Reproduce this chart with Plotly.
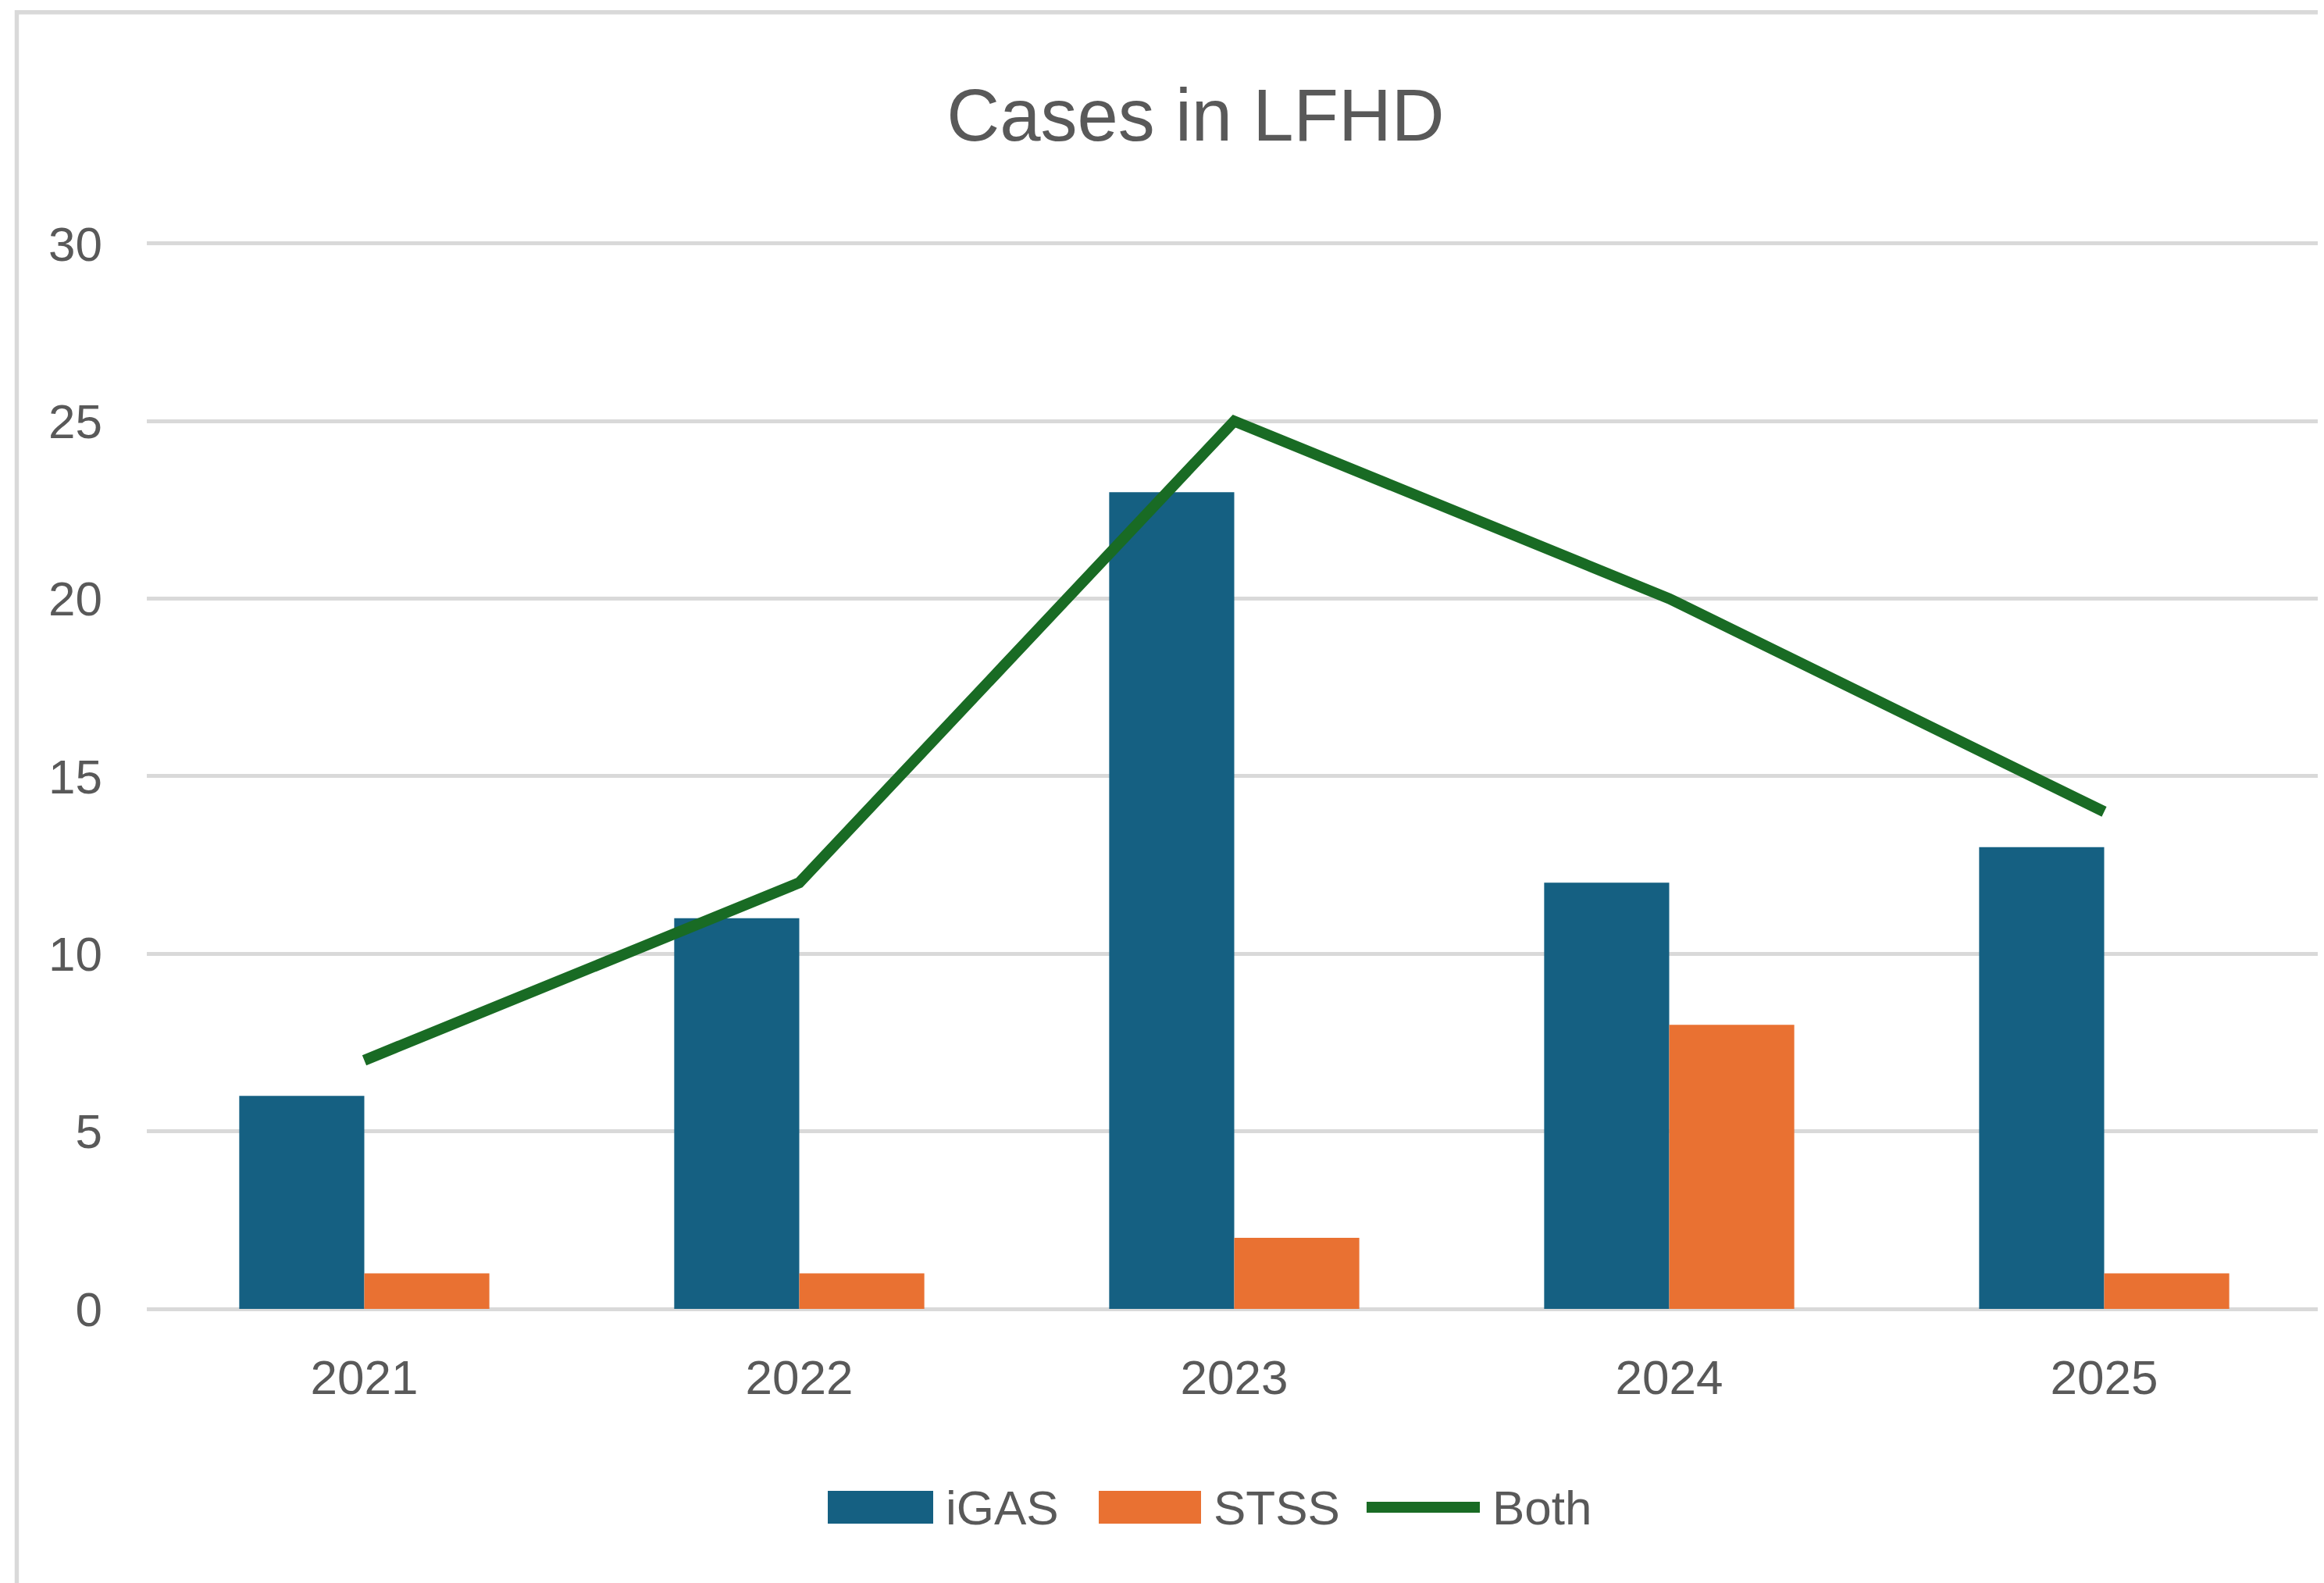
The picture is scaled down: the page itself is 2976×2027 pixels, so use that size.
import plotly.graph_objects as go

# ---- data ----
years = ["2021", "2022", "2023", "2024", "2025"]
igas = [6, 11, 23, 12, 13]
stss = [1, 1, 2, 8, 1]
both = [7, 12, 25, 20, 14]
series_names = ["iGAS", "STSS", "Both"]
y_tick_vals = [0, 5, 10, 15, 20, 25, 30]

# ---- style / geometry (reference pixel positions, corrected for the 8px page margin) ----
OFF = 8
W, H = 2976 - OFF, 2027 - OFF
Y_TOP_PX, Y_ZERO_PX = 312 - OFF, 1676 - OFF      # pixel of value 30 and 0
X_LEFT_PX, X_RIGHT_PX = 188 - OFF, 2973 - OFF
Y_MAX = 30.15
unit = (Y_ZERO_PX - Y_TOP_PX) / 30.0
L = X_LEFT_PX
R = W - X_RIGHT_PX
B = H - Y_ZERO_PX
T = Y_ZERO_PX - Y_MAX * unit

BLUE, ORANGE, GREEN = "#156082", "#E97132", "#196B24"
GRID = "#D9D9D9"
TXT = "#595959"
FONT = "Liberation Sans, Arial, sans-serif"

plot_w = W - L - R
plot_h = H - T - B


def px2x(px):
    return (px - OFF - L) / plot_w


def py2y(py):
    return (H - B - (py - OFF)) / plot_h


fig = go.Figure()
fig.add_trace(go.Bar(x=years, y=igas, name=series_names[0], marker=dict(color=BLUE, line=dict(width=0))))
fig.add_trace(go.Bar(x=years, y=stss, name=series_names[1], marker=dict(color=ORANGE, line=dict(width=0))))
fig.add_trace(go.Scatter(x=years, y=both, name=series_names[2], mode="lines",
                         line=dict(color=GREEN, width=14)))

shapes = []
annotations = []

# outer chart border (only top and left visible in the reference)
shapes.append(dict(type="rect", xref="paper", yref="paper",
                   x0=px2x(21.5), x1=px2x(3100), y0=py2y(2200), y1=py2y(16),
                   line=dict(color=GRID, width=5.5), fillcolor="rgba(0,0,0,0)", layer="below"))

# custom legend
leg_yc = 1930
sw_h = 42
legend_items = [
    ("bar", BLUE, 1060, 1195, 1209, series_names[0]),
    ("bar", ORANGE, 1407, 1538, 1552, series_names[1]),
    ("line", GREEN, 1750, 1895, 1909, series_names[2]),
]
for kind, col, x0, x1, tx, label in legend_items:
    if kind == "bar":
        shapes.append(dict(type="rect", xref="paper", yref="paper",
                           x0=px2x(x0), x1=px2x(x1),
                           y0=py2y(leg_yc + sw_h / 2), y1=py2y(leg_yc - sw_h / 2),
                           fillcolor=col, line=dict(width=0)))
    else:
        shapes.append(dict(type="line", xref="paper", yref="paper",
                           x0=px2x(x0), x1=px2x(x1), y0=py2y(leg_yc), y1=py2y(leg_yc),
                           line=dict(color=col, width=14)))
    annotations.append(dict(text=label, xref="paper", yref="paper",
                            x=px2x(tx), y=py2y(leg_yc), xanchor="left", yanchor="middle",
                            showarrow=False, font=dict(family=FONT, size=62, color=TXT)))

fig.update_layout(
    width=W, height=H,
    margin=dict(l=L, r=R, t=T, b=B, pad=0, autoexpand=False),
    paper_bgcolor="white", plot_bgcolor="white",
    barmode="group", bargap=0.425, bargroupgap=0,
    showlegend=False,
    title=dict(text="Cases in LFHD", x=(1531 - OFF) / W, xanchor="center",
               y=1 - (147 - OFF) / H, yanchor="middle", yref="container",
               font=dict(family=FONT, size=94, color=TXT)),
    font=dict(family=FONT, color=TXT),
    shapes=shapes,
    annotations=annotations,
)
fig.update_xaxes(type="category", showgrid=False, showline=False, zeroline=False, ticks="",
                 tickfont=dict(family=FONT, size=62, color=TXT), ticklabelstandoff=46)
fig.update_yaxes(range=[0, Y_MAX], tickvals=y_tick_vals, showgrid=True, gridcolor=GRID, gridwidth=5,
                 zeroline=True, zerolinecolor=GRID, zerolinewidth=5, showline=False, ticks="",
                 tickfont=dict(family=FONT, size=62, color=TXT), ticklabelstandoff=56)

fig.write_html("out.html")
